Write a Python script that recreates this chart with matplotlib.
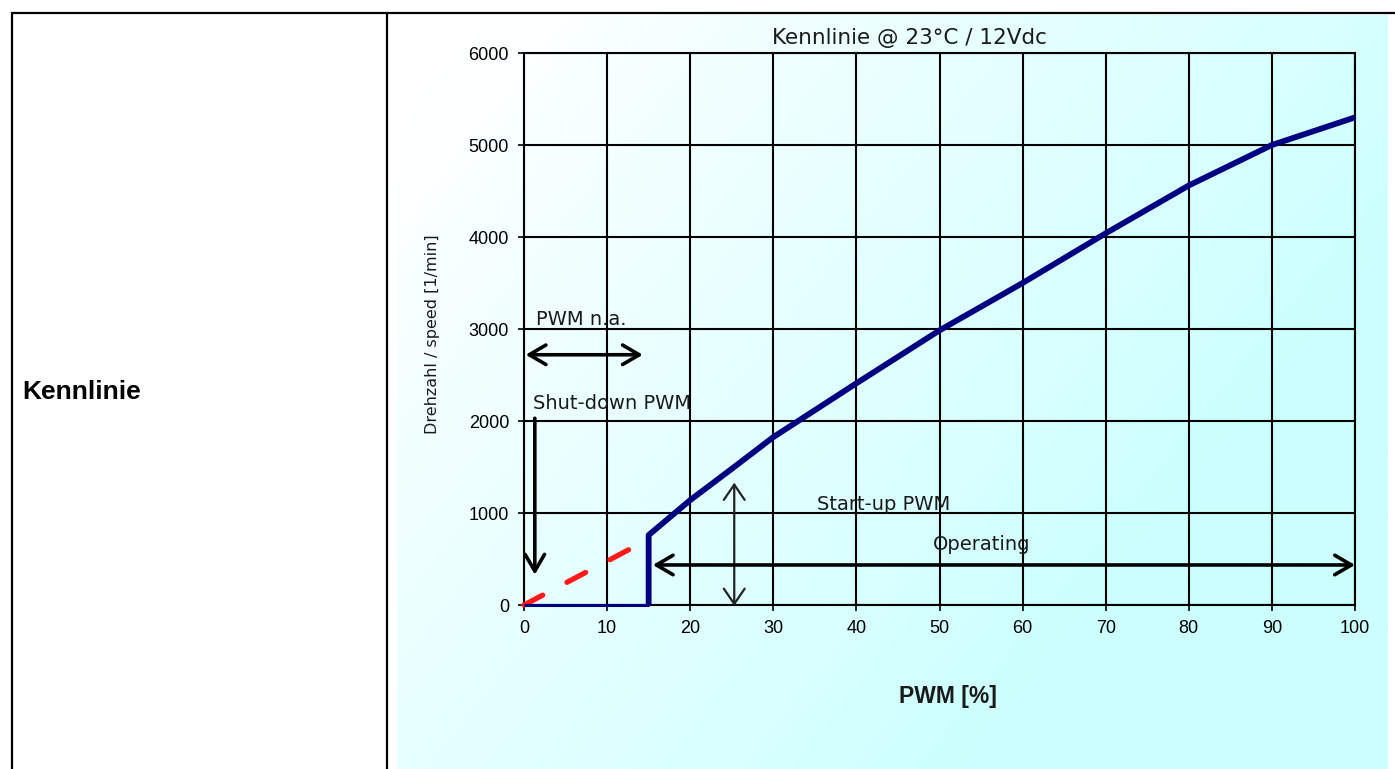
import numpy as np
import matplotlib
matplotlib.use("Agg")
import matplotlib.pyplot as plt

# ---------------- data ----------------
pwm_curve = [15, 15, 20, 25, 30, 40, 50, 60, 70, 80, 90, 100]
rpm_curve = [0, 760, 1140, 1480, 1825, 2410, 2985, 3500, 4040, 4560, 5000, 5300]
pwm_off = [0, 15]
rpm_off = [0, 0]
pwm_extrap = [0, 13]
rpm_extrap = [0, 620]
x_ticks = [0, 10, 20, 30, 40, 50, 60, 70, 80, 90, 100]
y_ticks = [0, 1000, 2000, 3000, 4000, 5000, 6000]
title = "Kennlinie @ 23°C / 12Vdc"
xlabel = "PWM [%]"
ylabel = "Drehzahl / speed [1/min]"
row_label = "Kennlinie"

W, H = 1395, 769
fig = plt.figure(figsize=(W / 100, H / 100), dpi=100)
fig.patch.set_facecolor("white")

# ---------------- background / table ----------------
bg = fig.add_axes([0, 0, 1, 1])
n = 300
X, Y = np.meshgrid(np.linspace(0, 1, n), np.linspace(0, 1, n))
t = np.clip(0.9 * X + 0.55 * Y - 0.08, 0, 1)
img = np.ones((n, n, 3))
img[..., 0] = 1 - 0.2 * t
bg.imshow(img, extent=[397, 1388, 769, 15], aspect="auto",
          interpolation="bilinear", zorder=0)
bg.set_xlim(0, W)
bg.set_ylim(H, 0)
bg.axis("off")
bg.plot([11, W], [13, 13], color="k", lw=1.6, solid_capstyle="butt")
bg.plot([12, 12], [12, H], color="k", lw=1.6, solid_capstyle="butt")
bg.plot([387, 387], [12, H], color="k", lw=1.6, solid_capstyle="butt")
bg.text(22, 392, row_label, fontsize=19, fontweight="bold",
        family="Liberation Sans", va="center", ha="left")

# ---------------- main chart ----------------
ax = fig.add_axes([524 / W, 1 - 605 / H, 831 / W, 552 / H])
ax.patch.set_alpha(0)
ax.set_xlim(0, 100)
ax.set_ylim(0, 6000)
ax.set_xticks(x_ticks)
ax.set_yticks(y_ticks)
ax.grid(True, color="k", lw=1.5)
for s in ax.spines.values():
    s.set_color("k")
    s.set_linewidth(1.5)
ax.tick_params(direction="out", length=4.3, width=1.2, labelsize=13, pad=6.5,
               colors="k")
for lab in ax.get_xticklabels() + ax.get_yticklabels():
    lab.set_family("Liberation Sans")

# curves
ax.plot(pwm_extrap, rpm_extrap, color="#ff1a1a", lw=3.8,
        dashes=(4.0, 5.2), dash_capstyle="round", clip_on=False, zorder=3)
ax.plot(pwm_off, rpm_off, color="#000080", lw=2.2, clip_on=False, zorder=3,
        solid_capstyle="butt")
ax.plot(pwm_curve, rpm_curve, color="#000080", lw=4.2, clip_on=False,
        zorder=4, solid_joinstyle="round", solid_capstyle="butt")

# arrows
def arrow(x0, y0, x1, y1, style, lw=2.6, color="k", hl=1.2, hw=0.7):
    ax.annotate("", xy=(x1, y1), xytext=(x0, y0), annotation_clip=False,
                arrowprops=dict(arrowstyle=f"{style},head_length={hl},head_width={hw}",
                                lw=lw, color=color, shrinkA=0, shrinkB=0),
                zorder=5)

arrow(0.2, 2720, 14.3, 2720, "<->")
arrow(1.3, 2030, 1.3, 330, "->")
arrow(25.3, 1330, 25.3, -10, "<->", lw=1.6, color="#222222", hl=1.1, hw=0.75)
arrow(15.5, 435, 100, 435, "<->")

txt_kw = dict(family="DejaVu Sans", fontsize=14, va="center", ha="left",
              color="#1a1a1a", zorder=6)
ax.text(1.4, 3100, "PWM n.a.", **txt_kw)
ax.text(1.1, 2185, "Shut-down PWM", **txt_kw)
ax.text(35.3, 1087, "Start-up PWM", **txt_kw)
ax.text(49.2, 663, "Operating", **txt_kw)

# titles / labels
fig.text(909 / W, 1 - 38 / H, title, family="DejaVu Sans", fontsize=15.5,
         ha="center", va="center", color="#1a1a1a")
fig.text(948 / W, 1 - 697 / H, xlabel, family="Liberation Sans", fontsize=16.5,
         fontweight="bold", ha="center", va="center", color="#1a1a1a")
fig.text(432 / W, 1 - 334 / H, ylabel, family="DejaVu Sans", fontsize=11.5,
         rotation=90, ha="center", va="center", color="#1a1a1a")

fig.savefig("out.png", dpi=100)
